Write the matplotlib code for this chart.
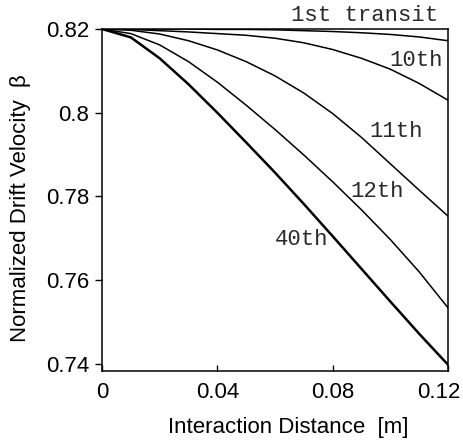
import matplotlib.pyplot as plt
import matplotlib.transforms as mtransforms

# interaction distance [m]
dist = [0.0, 0.01, 0.02, 0.03, 0.04, 0.05, 0.06, 0.07, 0.08, 0.09, 0.10, 0.11, 0.12]

# normalized drift velocity beta
beta_1st = [0.8200, 0.8200, 0.8200, 0.8200, 0.8199, 0.8199, 0.8198, 0.8196, 0.8194, 0.8191, 0.8187, 0.8181, 0.8172]
beta_10th = [0.8200, 0.8199, 0.8196, 0.8193, 0.8189, 0.8185, 0.8178, 0.8167, 0.8151, 0.8130, 0.8104, 0.8070, 0.8030]
beta_11th = [0.8200, 0.8197, 0.8188, 0.8172, 0.8150, 0.8122, 0.8088, 0.8047, 0.7998, 0.7941, 0.7878, 0.7815, 0.7753]
beta_12th = [0.8200, 0.8189, 0.8162, 0.8122, 0.8073, 0.8018, 0.7960, 0.7899, 0.7835, 0.7768, 0.7697, 0.7620, 0.7534]
beta_40th = [0.8200, 0.8180, 0.8130, 0.8068, 0.8000, 0.7929, 0.7857, 0.7782, 0.7705, 0.7627, 0.7549, 0.7472, 0.7398]

curve_labels = ['1st transit', '10th', '11th', '12th', '40th']
label_x = [0.0912, 0.1089, 0.1020, 0.0954, 0.0694]
label_y = [0.8233, 0.8124, 0.7956, 0.7811, 0.7696]

xticks = [0, 0.04, 0.08, 0.12]
xtick_labels = ['0', '0.04', '0.08', '0.12']
yticks = [0.74, 0.76, 0.78, 0.80, 0.82]
ytick_labels = ['0.74', '0.76', '0.78', '0.8', '0.82']

plt.rcParams['font.family'] = 'Liberation Sans'

fig = plt.figure(figsize=(4.63, 4.42), dpi=100)
ax = fig.add_axes([0.2203, 0.1606, 0.7473, 0.7738])

for ys in [beta_1st, beta_10th, beta_11th, beta_12th]:
    ax.plot(dist, ys, color='black', lw=1.1)
ax.plot(dist, beta_40th, color='black', lw=1.8)

for txt, lx, ly in zip(curve_labels, label_x, label_y):
    ax.text(lx, ly, txt, family='Liberation Mono', fontsize=16,
            ha='center', va='center', color='#2a2a2a', clip_on=False)

ax.set_xlim(0, 0.12)
ax.set_ylim(0.7383, 0.82)
ax.set_xticks(xticks)
ax.set_xticklabels(xtick_labels)
ax.set_yticks(yticks)
ax.set_yticklabels(ytick_labels)

ax.tick_params(axis='x', direction='in', length=4, width=1, pad=8, labelsize=16)
ax.tick_params(axis='y', direction='out', length=5, width=1, pad=4, labelsize=16)

# last x label sits a bit left in the original so it fits the image
last = ax.get_xticklabels()[-1]
last.set_transform(last.get_transform() + mtransforms.ScaledTranslation(-9 / 100, 0, fig.dpi_scale_trans))

for sp in ax.spines.values():
    sp.set_linewidth(1.1)

ax.set_xlabel('Interaction Distance  [m]', fontsize=16)
ax.set_ylabel('Normalized Drift Velocity  β', fontsize=16)
ax.xaxis.set_label_coords(0.538, -0.135)
ax.yaxis.set_label_coords(-0.205, 0.475)

fig.savefig('out.png', dpi=100)
